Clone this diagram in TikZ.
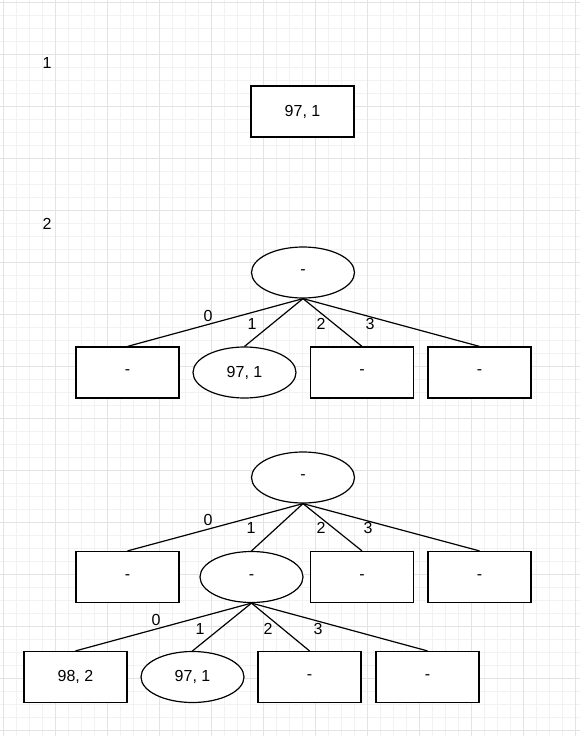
\documentclass[tikz,border=0pt]{standalone}
\usepackage{fontspec}
\setmainfont{Liberation Sans}
\usetikzlibrary{shapes.geometric}

\tikzset{
  txt/.style={font=\fontsize{16}{19}\selectfont, inner sep=0pt},
  leaf/.style={txt, draw, fill=white, line width=1.2pt, minimum width=103pt, minimum height=51pt},
  inner/.style={txt, draw, fill=white, ellipse, line width=1.2pt, minimum width=103pt, minimum height=51pt},
  edge/.style={line width=1.2pt},
}

\begin{document}
\begin{tikzpicture}[x=1pt,y=-1pt]
\useasboundingbox (0,0) rectangle (580,736);
% grid
\foreach \i in {0,...,44} \draw[color=black!5] (3+13*\i,0) -- (3+13*\i,736);
\foreach \i in {0,...,56} \draw[color=black!5] (0,2+13*\i) -- (580,2+13*\i);
\foreach \i in {0,...,11} \draw[color=black!11] (3+52*\i,0) -- (3+52*\i,736);
\foreach \i in {0,...,14} \draw[color=black!11] (0,2+52*\i) -- (580,2+52*\i);

% step 1
\node[txt] (s1) at (47,63) {1};
\node[leaf] (a) at (302.5,111.5) {97, 1};

% step 2
\node[txt] (s2) at (47,224) {2};
\node[inner] (b) at (303,272.5) {-};
\node[leaf] (b0) at (127.5,372.5) {-};
\node[inner] (b1) at (244.5,372.5) {97, 1};
\node[leaf] (b2) at (362,372.5) {-};
\node[leaf] (b3) at (479.5,372.5) {-};
\draw[edge] (b.south) -- (b0.north);
\draw[edge] (b.south) -- (b1.north);
\draw[edge] (b.south) -- (b2.north);
\draw[edge] (b.south) -- (b3.north);
\node[txt] (lb0) at (208,316) {0};
\node[txt] (lb1) at (252,324) {1};
\node[txt] (lb2) at (321,324) {2};
\node[txt] (lb3) at (370,324) {3};

% step 3
\node[inner] (c) at (303,477.5) {-};
\node[leaf] (c0) at (127.5,577) {-};
\node[inner] (c1) at (251.5,577) {-};
\node[leaf] (c2) at (362,577) {-};
\node[leaf] (c3) at (479.5,577) {-};
\draw[edge] (c.south) -- (c0.north);
\draw[edge] (c.south) -- (c1.north);
\draw[edge] (c.south) -- (c2.north);
\draw[edge] (c.south) -- (c3.north);
\node[txt] (lc0) at (208,520) {0};
\node[txt] (lc1) at (251,528) {1};
\node[txt] (lc2) at (321,528) {2};
\node[txt] (lc3) at (368,528) {3};
\node[leaf] (d0) at (75.5,677) {98, 2};
\node[inner] (d1) at (192.5,677) {97, 1};
\node[leaf] (d2) at (309.5,677) {-};
\node[leaf] (d3) at (427.5,677) {-};
\draw[edge] (c1.south) -- (d0.north);
\draw[edge] (c1.south) -- (d1.north);
\draw[edge] (c1.south) -- (d2.north);
\draw[edge] (c1.south) -- (d3.north);
\node[txt] (ld0) at (156,620) {0};
\node[txt] (ld1) at (200,629) {1};
\node[txt] (ld2) at (268,629) {2};
\node[txt] (ld3) at (318,629) {3};
\end{tikzpicture}
\end{document}
